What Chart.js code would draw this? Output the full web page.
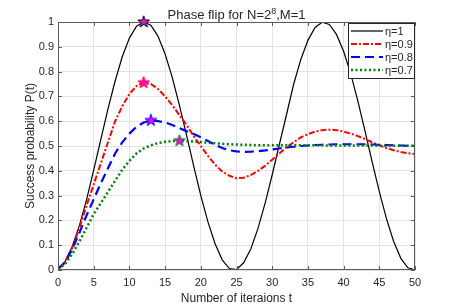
<!DOCTYPE html>
<html>
<head>
<meta charset="utf-8">
<script src="https://cdn.jsdelivr.net/npm/chart.js@4.4.0/dist/chart.umd.min.js"></script>
<style>
  html, body { margin: 0; padding: 0; background: #fff; }
  canvas { display: block; }
</style>
</head>
<body>
<canvas id="chart" width="457" height="305"></canvas>
<script>
const iterations = [0, 1, 2, 3, 4, 5, 6, 7, 8, 9, 10, 11, 12, 13, 14, 15, 16, 17, 18, 19, 20,
    21, 22, 23, 24, 25, 26, 27, 28, 29, 30, 31, 32, 33, 34, 35, 36, 37, 38, 39, 40,
    41, 42, 43, 44, 45, 46, 47, 48, 49, 50];

const pEta10 = [0.004, 0.035, 0.095, 0.180, 0.284, 0.403, 0.527, 0.650, 0.762, 0.860,
    0.935, 0.983, 1.000, 0.987, 0.943, 0.871, 0.777, 0.665, 0.544, 0.420,
    0.300, 0.194, 0.106, 0.041, 0.006, 0.002, 0.029, 0.085, 0.167, 0.269,
    0.384, 0.506, 0.626, 0.749, 0.848, 0.926, 0.978, 0.999, 0.990, 0.950,
    0.882, 0.791, 0.681, 0.560, 0.436, 0.316, 0.207, 0.116, 0.048, 0.009, 0.001];

const pEta09 = [0.004, 0.033, 0.090, 0.170, 0.260, 0.345, 0.430, 0.515, 0.600, 0.660,
    0.710, 0.742, 0.755, 0.750, 0.730, 0.700, 0.665, 0.625, 0.585, 0.540,
    0.500, 0.460, 0.425, 0.397, 0.380, 0.370, 0.372, 0.383, 0.400, 0.420,
    0.445, 0.470, 0.495, 0.515, 0.535, 0.548, 0.558, 0.564, 0.566, 0.564,
    0.558, 0.550, 0.540, 0.528, 0.515, 0.503, 0.492, 0.483, 0.476, 0.471, 0.468];

const pEta08 = [0.004, 0.030, 0.085, 0.150, 0.220, 0.285, 0.350, 0.410, 0.470, 0.515,
    0.550, 0.578, 0.595, 0.603, 0.600, 0.595, 0.585, 0.572, 0.560, 0.548,
    0.535, 0.520, 0.505, 0.492, 0.483, 0.478, 0.476, 0.477, 0.479, 0.482,
    0.486, 0.490, 0.494, 0.497, 0.500, 0.502, 0.504, 0.505, 0.506, 0.507,
    0.507, 0.507, 0.507, 0.507, 0.506, 0.505, 0.504, 0.503, 0.502, 0.501, 0.500];

const pEta07 = [0.003, 0.025, 0.065, 0.115, 0.170, 0.225, 0.270, 0.315, 0.360, 0.405,
    0.440, 0.470, 0.490, 0.503, 0.512, 0.517, 0.520, 0.521, 0.520, 0.518,
    0.516, 0.513, 0.511, 0.509, 0.507, 0.506, 0.505, 0.504, 0.503, 0.503,
    0.503, 0.503, 0.503, 0.503, 0.503, 0.503, 0.503, 0.503, 0.502, 0.502,
    0.502, 0.502, 0.502, 0.502, 0.502, 0.501, 0.501, 0.501, 0.501, 0.501, 0.501];

const seriesNames = ['η=1', 'η=0.9', 'η=0.8', 'η=0.7'];
const peakT = [12, 12, 13, 17];

const seriesValues = [pEta10, pEta09, pEta08, pEta07];
const colors = ['#000000', '#ff0000', '#0000ff', '#008000'];
const dashes = [[], [6, 2, 2, 2], [9, 5], [2, 2.5]];
const widths = [1.2, 2, 2.2, 2.5];
const textColor = '#262626';
const fontFamily = '"Liberation Sans", Arial, sans-serif';

function starImage(edge) {
    const c = document.createElement('canvas');
    c.width = 14;
    c.height = 14;
    const g = c.getContext('2d');
    g.beginPath();
    for (let i = 0; i < 10; i++) {
        const r = i % 2 ? 2.4 : 6.2;
        const a = -Math.PI / 2 + i * Math.PI / 5;
        g.lineTo(7 + r * Math.cos(a), 7 + r * Math.sin(a));
    }
    g.closePath();
    g.fillStyle = '#ff00ff';
    g.fill();
    g.lineWidth = 1;
    g.strokeStyle = edge;
    g.stroke();
    return c;
}

const lineSets = seriesValues.map((vals, k) => ({
    label: seriesNames[k],
    data: iterations.map((t, i) => ({ x: t, y: vals[i] })),
    borderColor: colors[k],
    borderWidth: widths[k],
    borderDash: dashes[k],
    borderCapStyle: 'butt',
    pointRadius: 0,
    fill: false,
    tension: 0,
    order: 4 - k
}));

const starSets = seriesValues.map((vals, k) => ({
    label: 'peak ' + seriesNames[k],
    data: [{ x: peakT[k], y: vals[peakT[k]] }],
    showLine: false,
    pointStyle: starImage(colors[k]),
    pointRadius: 7,
    clip: false,
    order: 0
}));

const framePlugin = {
    id: 'frame',
    afterDraw(chart) {
        const { ctx, chartArea: a, scales: { x, y } } = chart;
        ctx.save();
        // box round the axes
        ctx.strokeStyle = '#5a5a5a';
        ctx.lineWidth = 1;
        ctx.strokeRect(a.left + 0.5, a.top + 0.5, a.right - a.left - 1, a.bottom - a.top - 1);
        // inward ticks
        ctx.beginPath();
        x.ticks.forEach(tk => {
            const px = Math.round(x.getPixelForValue(tk.value)) + 0.5;
            ctx.moveTo(px, a.bottom); ctx.lineTo(px, a.bottom - 4);
            ctx.moveTo(px, a.top); ctx.lineTo(px, a.top + 4);
        });
        y.ticks.forEach(tk => {
            const py = Math.round(y.getPixelForValue(tk.value)) + 0.5;
            ctx.moveTo(a.left, py); ctx.lineTo(a.left + 4, py);
            ctx.moveTo(a.right, py); ctx.lineTo(a.right - 4, py);
        });
        ctx.stroke();

        // title with superscript
        ctx.fillStyle = textColor;
        ctx.textBaseline = 'alphabetic';
        const big = '13px ' + fontFamily;
        const small = '9px ' + fontFamily;
        const parts = [['Phase flip for N=2', big, 0], ['8', small, -5], [',M=1', big, 0]];
        let total = 0;
        parts.forEach(p => { ctx.font = p[1]; total += ctx.measureText(p[0]).width; });
        let tx = (a.left + a.right) / 2 - total / 2;
        parts.forEach(p => {
            ctx.font = p[1];
            ctx.textAlign = 'left';
            ctx.fillText(p[0], tx, a.top - 3 + p[2]);
            tx += ctx.measureText(p[0]).width;
        });

        // axis labels
        ctx.font = '12px ' + fontFamily;
        ctx.textAlign = 'center';
        ctx.fillText('Number of iteraions t', (a.left + a.right) / 2, 302);
        ctx.save();
        ctx.translate(34, (a.top + a.bottom) / 2);
        ctx.rotate(-Math.PI / 2);
        ctx.fillText('Success probability P(t)', 0, 0);
        ctx.restore();

        // legend in the top right corner
        const lw = 66, lh = 55;
        const lx = a.right - lw - 1, ly = a.top + 1;
        ctx.fillStyle = '#ffffff';
        ctx.fillRect(lx, ly, lw, lh);
        ctx.strokeStyle = '#262626';
        ctx.lineWidth = 1;
        ctx.strokeRect(lx + 0.5, ly + 0.5, lw, lh);
        ctx.font = '11px ' + fontFamily;
        ctx.textAlign = 'left';
        ctx.textBaseline = 'middle';
        seriesNames.forEach((name, k) => {
            const ry = ly + 8 + k * 13;
            ctx.beginPath();
            ctx.setLineDash(dashes[k]);
            ctx.strokeStyle = colors[k];
            ctx.lineWidth = widths[k];
            ctx.moveTo(lx + 3, ry);
            ctx.lineTo(lx + 35, ry);
            ctx.stroke();
            ctx.setLineDash([]);
            ctx.fillStyle = textColor;
            ctx.fillText(name, lx + 37, ry + 0.5);
        });
        ctx.restore();
    }
};

new Chart(document.getElementById('chart'), {
    type: 'line',
    data: { datasets: [...starSets, ...lineSets] },
    options: {
        responsive: false,
        animation: false,
        devicePixelRatio: 1,
        layout: { padding: { top: 22, right: 42, left: 0, bottom: 0 } },
        plugins: {
            legend: { display: false },
            title: { display: false },
            tooltip: { enabled: false }
        },
        scales: {
            x: {
                type: 'linear',
                min: 0,
                max: 50,
                ticks: {
                    stepSize: 5,
                    color: textColor,
                    padding: 6,
                    maxRotation: 0,
                    font: { family: fontFamily, size: 11 }
                },
                grid: { color: '#e3e3e3', drawTicks: false },
                border: { display: false },
                afterFit: s => { s.height = 35; }
            },
            y: {
                min: 0,
                max: 1,
                ticks: {
                    stepSize: 0.1,
                    color: textColor,
                    padding: 4,
                    font: { family: fontFamily, size: 11 },
                    callback: v => String(Math.round(v * 10) / 10)
                },
                grid: { color: '#e3e3e3', drawTicks: false },
                border: { display: false },
                afterFit: s => { s.width = 58; }
            }
        }
    },
    plugins: [framePlugin]
});
</script>
</body>
</html>
